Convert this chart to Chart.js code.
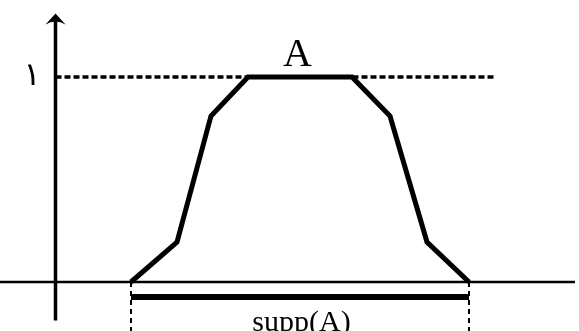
<!DOCTYPE html>
<html>
<head>
<meta charset="utf-8">
<script src="https://cdn.jsdelivr.net/npm/chart.js@4.4.1/dist/chart.umd.min.js"></script>
<style>
  html, body { margin: 0; padding: 0; background: #fff; }
  #c { display: block; }
</style>
</head>
<body>
<canvas id="c" width="579" height="331"></canvas>
<script>
// membership function A (x in tenths of a pixel-ish unit, y = degree of membership)
const shapeX = [7.55, 12.15, 15.55, 19.25, 29.65, 33.45, 37.15, 41.35];
const shapeY = [0, 0.195, 0.81, 1, 1, 0.81, 0.195, 0];
const levelY = 1;
const levelX = [0, 43.95];
const suppX = [7.55, 41.35];
const suppY = -0.073;
const labels = { top: 'A', level: '١', support: 'supp(A)' };

const toPts = (xs, ys) => xs.map((x, i) => ({ x, y: ys[i] }));

const annotate = {
    id: 'annotate',
    afterDatasetsDraw(chart) {
        const { ctx, scales: { x, y } } = chart;
        ctx.save();
        ctx.fillStyle = '#000';
        // y axis arrow head
        const ax = x.getPixelForValue(0);
        const ay = y.getPixelForValue(1.31);
        ctx.beginPath();
        ctx.moveTo(ax, ay);
        ctx.lineTo(ax - 10, ay + 11);
        ctx.quadraticCurveTo(ax, ay + 5, ax + 10, ay + 11);
        ctx.closePath();
        ctx.fill();

        ctx.textAlign = 'center';
        ctx.textBaseline = 'alphabetic';
        ctx.font = '40px "Liberation Serif", serif';
        ctx.fillText(labels.top, x.getPixelForValue(24.2), y.getPixelForValue(1) - 11);
        ctx.font = '30px "Liberation Serif", serif';
        ctx.fillText(labels.support, x.getPixelForValue(24.6), y.getPixelForValue(suppY) + 34);
        ctx.font = '32px "DejaVu Sans", sans-serif';
        ctx.fillText(labels.level, x.getPixelForValue(-2.35), y.getPixelForValue(1) + 8);
        ctx.restore();
    }
};

new Chart(document.getElementById('c'), {
    type: 'scatter',
    data: {
        datasets: [
            { data: toPts([-5.55, 51.95], [0, 0]), borderWidth: 2.5 },
            { data: toPts([0, 0], [-0.188, 1.28]), borderWidth: 3.5 },
            { data: toPts(levelX, [levelY, levelY]), borderWidth: 3.5, borderDash: [6, 3] },
            { data: toPts([suppX[0], suppX[0]], [0, -0.24]), borderWidth: 2, borderDash: [5, 4] },
            { data: toPts([suppX[1], suppX[1]], [0, -0.24]), borderWidth: 2, borderDash: [5, 4] },
            { data: toPts(suppX, [suppY, suppY]), borderWidth: 6, borderCapStyle: 'butt' },
            { data: toPts(shapeX, shapeY), borderWidth: 5, borderJoinStyle: 'miter' }
        ].map(d => Object.assign({
            showLine: true,
            borderColor: '#000',
            pointRadius: 0,
            pointHoverRadius: 0,
            tension: 0,
            fill: false
        }, d))
    },
    options: {
        responsive: false,
        animation: false,
        layout: { padding: 0 },
        plugins: { legend: { display: false }, tooltip: { enabled: false } },
        scales: {
            x: { type: 'linear', display: false, min: -5.55, max: 52.35 },
            y: { type: 'linear', display: false, min: -0.239, max: 1.3756 }
        }
    },
    plugins: [annotate]
});
</script>
</body>
</html>
